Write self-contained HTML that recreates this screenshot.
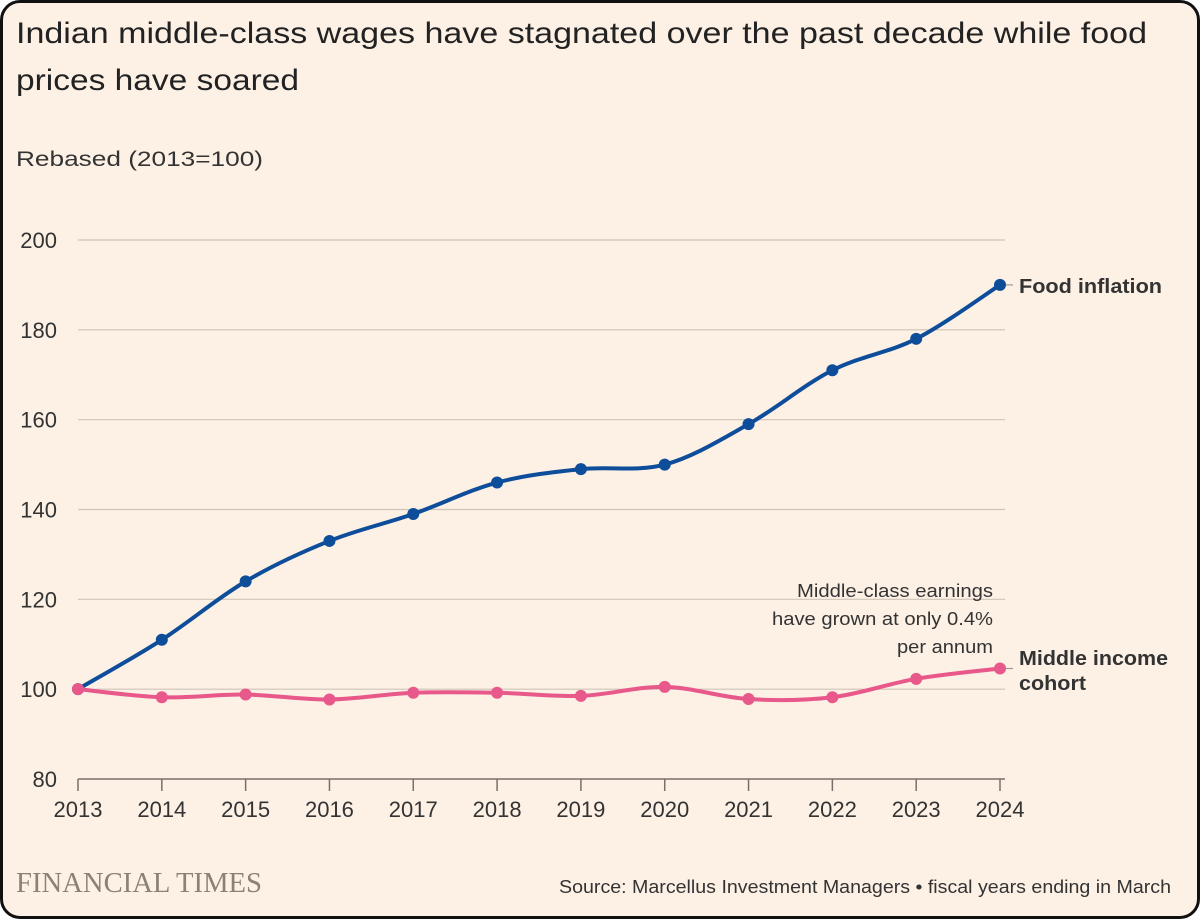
<!DOCTYPE html>
<html><head><meta charset="utf-8">
<style>
html,body{margin:0;padding:0;background:#fff;}
#frame{position:absolute;left:0;top:0;width:1194px;height:913px;border:3px solid #111;border-radius:20px;background:#fdf1e6;overflow:hidden;}
svg{position:absolute;left:0;top:0;}
text{font-family:"Liberation Sans",sans-serif;}
</style></head><body>
<div id="frame"></div>
<svg id="chart" width="1200" height="919">
<text x="16" y="43" font-size="30" textLength="1131" lengthAdjust="spacingAndGlyphs" fill="#222">Indian middle-class wages have stagnated over the past decade while food</text>
<text x="16" y="90" font-size="30" textLength="283" lengthAdjust="spacingAndGlyphs" fill="#222">prices have soared</text>
<text x="16" y="166" font-size="21" textLength="247" lengthAdjust="spacingAndGlyphs" fill="#333">Rebased (2013=100)</text>
<g id="grid"></g><g id="axes"></g><g id="lines"></g>
<text x="1019" y="293" font-size="20" font-weight="bold" textLength="143" lengthAdjust="spacingAndGlyphs" fill="#333">Food inflation</text>
<text x="1019" y="665" font-size="20" font-weight="bold" textLength="149" lengthAdjust="spacingAndGlyphs" fill="#333">Middle income</text>
<text x="1019" y="690" font-size="20" font-weight="bold" textLength="67" lengthAdjust="spacingAndGlyphs" fill="#333">cohort</text>
<g font-size="18" fill="#333" text-anchor="end">
<text x="993" y="597" textLength="196" lengthAdjust="spacingAndGlyphs">Middle-class earnings</text>
<text x="993" y="625" textLength="221" lengthAdjust="spacingAndGlyphs">have grown at only 0.4%</text>
<text x="993" y="653" textLength="96" lengthAdjust="spacingAndGlyphs">per annum</text>
</g>
<text x="16" y="892" font-size="28" textLength="246" lengthAdjust="spacingAndGlyphs" fill="#8a8275" style="font-family:'Liberation Serif',serif">FINANCIAL TIMES</text>
<text x="559" y="893" font-size="18" textLength="612" lengthAdjust="spacingAndGlyphs" fill="#333">Source: Marcellus Investment Managers • fiscal years ending in March</text>
</svg>
<script>
const years=[2013,2014,2015,2016,2017,2018,2019,2020,2021,2022,2023,2024];
const food=[100,111,124,133,139,146,149,150,159,171,178,190];
const middle=[100,98.2,98.8,97.7,99.2,99.2,98.5,100.5,97.8,98.2,102.3,104.6];
const yTicks=[80,100,120,140,160,180,200];
const NS="http://www.w3.org/2000/svg";
const x=i=>78+i*(1000-78)/(years.length-1);
const y=v=>779-(v-80)*(779-240)/120;
function mk(t,a,p){const e=document.createElementNS(NS,t);for(const k in a)e.setAttribute(k,a[k]);p.appendChild(e);return e;}
const grid=document.getElementById('grid'),axes=document.getElementById('axes'),lines=document.getElementById('lines');
yTicks.forEach(v=>{
 if(v>80){const l=mk('line',{x1:78,x2:1005,y1:y(v),y2:y(v),stroke:'#cfc4b8','stroke-width':1.2},grid);
 
 }
 const t=mk('text',{x:57,y:y(v)+8,'font-size':22,fill:'#333','text-anchor':'end'},axes);t.textContent=v;
 
 
});
const ax=mk('line',{x1:78,x2:1005,y1:y(80),y2:y(80),stroke:'#77706a','stroke-width':1.5},axes);


years.forEach((yr,i)=>{
 mk('line',{x1:x(i),x2:x(i),y1:y(80),y2:y(80)+12,stroke:'#77706a','stroke-width':1.5},axes);
 const t=mk('text',{x:x(i),y:817,'font-size':22,fill:'#333','text-anchor':'middle'},axes);t.textContent=yr;
 
 
});
function path(vals){
 const p=vals.map((v,i)=>[x(i),y(v)]);let d='M'+p[0][0]+','+p[0][1];
 for(let i=0;i<p.length-1;i++){const p0=p[Math.max(0,i-1)],p1=p[i],p2=p[i+1],p3=p[Math.min(p.length-1,i+2)];
  const c1=[p1[0]+(p2[0]-p0[0])/6,p1[1]+(p2[1]-p0[1])/6],c2=[p2[0]-(p3[0]-p1[0])/6,p2[1]-(p3[1]-p1[1])/6];
  d+=` C${c1[0]},${c1[1]} ${c2[0]},${c2[1]} ${p2[0]},${p2[1]}`;}
 return d;}
function series(vals,col,name){
 mk('line',{x1:x(vals.length-1),x2:1013,y1:y(vals[vals.length-1]),y2:y(vals[vals.length-1]),stroke:'#999','stroke-width':1.2},lines);
 const pth=mk('path',{d:path(vals),fill:'none',stroke:col,'stroke-width':4},lines);
 
 
 vals.forEach((v,i)=>{const c=mk('circle',{cx:x(i),cy:y(v),r:6,fill:col},lines);
  
  });
}
series(food,'#0d4d9a','food-inflation');
series(middle,'#e8588a','middle-income');
</script>
</body></html>
